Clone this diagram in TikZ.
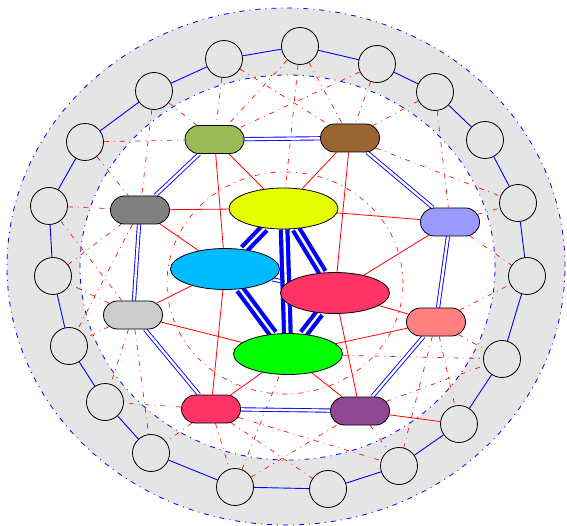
\documentclass[tikz,border=0pt]{standalone}
\usetikzlibrary{shapes.geometric,shapes.misc}
\pgfdeclarelayer{back}
\pgfdeclarelayer{edges}
\pgfsetlayers{back,edges,main}
\definecolor{colA}{HTML}{9BBB59}
\definecolor{colB}{HTML}{996633}
\definecolor{colC}{HTML}{9999FF}
\definecolor{colD}{HTML}{FF8080}
\definecolor{colE}{HTML}{8F4793}
\definecolor{colF}{HTML}{FF3366}
\definecolor{colG}{HTML}{CCCCCC}
\definecolor{colH}{HTML}{808080}
\definecolor{colY}{HTML}{E5FF00}
\definecolor{colCy}{HTML}{00BBFF}
\definecolor{colR}{HTML}{FF3366}
\definecolor{colGr}{HTML}{00FF00}
\tikzset{
 ringnode/.style={circle, draw=black, line width=0.8pt, fill=gray!20, minimum size=37pt, inner sep=0pt},
 capsule/.style={rounded rectangle, draw=black, line width=0.8pt, minimum width=59pt, minimum height=28pt, inner sep=0pt},
 core/.style={ellipse, draw=black, line width=0.8pt, minimum width=109pt, minimum height=41pt, inner sep=0pt},
 ringlink/.style={blue, line width=0.9pt},
 dbl/.style={blue, line width=0.9pt, double=white, double distance=2.4pt},
 thickdbl/.style={blue, line width=4.2pt, double=white, double distance=2.4pt},
 redlink/.style={red, line width=0.8pt},
 dd/.style={red, line width=0.65pt, dash pattern=on 5pt off 5pt on 0.8pt off 5pt},
 borderdd/.style={blue, line width=0.8pt, dash pattern=on 5pt off 5pt on 1pt off 5pt},
}
\begin{document}
\begin{tikzpicture}[x=1pt,y=-1pt]
\useasboundingbox (0,0) rectangle (567,526);
\begin{pgfonlayer}{back}
\fill[gray!20] (286,266.5) ellipse [x radius=279pt, y radius=258.5pt];
\draw[borderdd] (286,266.5) ellipse [x radius=279pt, y radius=258.5pt];
\fill[white] (287.5,267.5) ellipse [x radius=207.5pt, y radius=192.5pt];
\draw[borderdd] (287.5,267.5) ellipse [x radius=207.5pt, y radius=192.5pt];
\draw[dd] (285,283) ellipse [x radius=118pt, y radius=111pt];
\end{pgfonlayer}
% outer ring
\node[ringnode] (o1) at (300,46) {};
\node[ringnode] (o2) at (377,64) {};
\node[ringnode] (o3) at (435,92) {};
\node[ringnode] (o4) at (485,140) {};
\node[ringnode] (o5) at (518,203) {};
\node[ringnode] (o6) at (527,276) {};
\node[ringnode] (o7) at (502,359) {};
\node[ringnode] (o8) at (459,424) {};
\node[ringnode] (o9) at (399,466) {};
\node[ringnode] (o10) at (328,489) {};
\node[ringnode] (o11) at (235,487) {};
\node[ringnode] (o12) at (151,453) {};
\node[ringnode] (o13) at (105,402) {};
\node[ringnode] (o14) at (69,346) {};
\node[ringnode] (o15) at (53,276) {};
\node[ringnode] (o16) at (49,206) {};
\node[ringnode] (o17) at (85,142) {};
\node[ringnode] (o18) at (154,91) {};
\node[ringnode] (o19) at (224,59) {};
% inner ring
\node[capsule, fill=colA] (a) at (214.5,139.5) {};
\node[capsule, fill=colB] (b) at (350,138) {};
\node[capsule, fill=colC] (c) at (450,222) {};
\node[capsule, fill=colD] (d) at (436,322) {};
\node[capsule, fill=colE] (e) at (360,411) {};
\node[capsule, fill=colF] (f) at (211,409) {};
\node[capsule, fill=colG] (g) at (133,315) {};
\node[capsule, fill=colH] (h) at (140,210) {};
% core
\node[core, fill=colY] (Y) at (283.5,208.5) {};
\node[core, fill=colCy] (C) at (225,269) {};
\node[core, fill=colR] (R) at (335,293) {};
\node[core, fill=colGr] (G) at (288,354) {};
\begin{pgfonlayer}{edges}
% dash-dot links
\foreach \u/\v in {o19/a,o18/a,o17/a,o1/a,o2/a,o18/h,o17/h,o16/h,o15/h,
  o19/b,o1/b,o2/b,o3/b,b/o5,o3/c,c/o5,c/o6,d/o6,d/o7,G/o7,d/o8,d/o9,e/o9,e/o7,
  f/o10,f/o11,f/o12,f/o13,f/o9,g/o13,g/o14,g/o15,g/o16,g/o12,h/o14,o1/Y,o11/e,o11/G}
  \draw[dd] (\u) -- (\v);
% outer ring links
\foreach \u/\v in {o1/o2,o2/o3,o3/o4,o4/o5,o5/o6,o6/o7,o7/o8,o8/o9,o9/o10,o10/o11,
  o11/o12,o12/o13,o13/o14,o14/o15,o15/o16,o16/o17,o17/o18,o18/o19,o19/o1}
  \draw[ringlink] (\u) -- (\v);
% red solid links
\foreach \u/\v in {a/Y,a/C,h/Y,h/C,b/Y,b/R,c/Y,c/R,d/R,d/G,e/G,e/R,e/o8,f/G,f/C,g/C,g/G}
  \draw[redlink] (\u) -- (\v);
% inner double links
\foreach \u/\v in {a/b,b/c,c/d,d/e,e/f,f/g,g/h,h/a,C/R}
  \draw[dbl] (\u) -- (\v);
% core thick links
\foreach \u/\v in {Y/C,Y/G,Y/R,C/G,R/G}
  \draw[thickdbl] (\u) -- (\v);
\end{pgfonlayer}
\end{tikzpicture}
\end{document}
